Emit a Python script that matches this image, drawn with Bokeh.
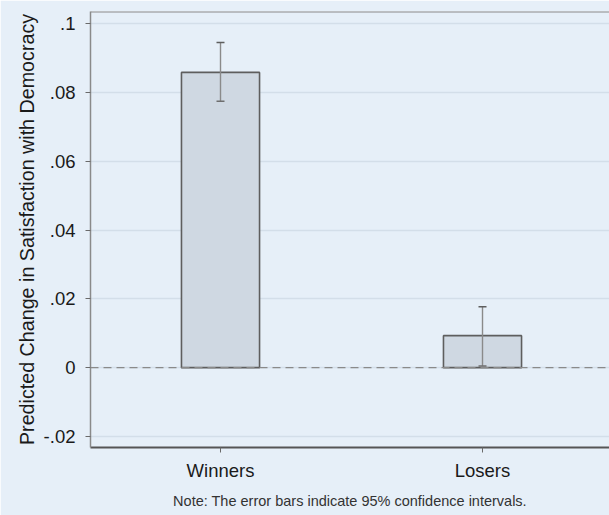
from bokeh.plotting import figure
from bokeh.models import (ColumnDataSource, FixedTicker, Span, Whisker, TeeHead,
                          Range1d, Title)
from bokeh.embed import file_html
from bokeh.resources import INLINE

# Data
categories = ["Winners", "Losers"]
positions = [1, 2]
estimates = [0.0858, 0.0093]
ci_lower = [0.0774, 0.0005]
ci_upper = [0.0945, 0.0177]
y_ticks = [-0.02, 0, 0.02, 0.04, 0.06, 0.08, 0.1]
y_tick_labels = ["-.02", "0", ".02", ".04", ".06", ".08", ".1"]
note_text = "Note: The error bars indicate 95% confidence intervals."

BG = "#e6eff8"
FONT = "Liberation Sans"
Y_START, Y_END = -0.0232, 0.1035

src = ColumnDataSource(dict(x=positions, top=estimates, lo=ci_lower, hi=ci_upper))

p = figure(width=609, height=515, output_backend="svg", toolbar_location=None,
           x_range=Range1d(0.5038, 2.4847), y_range=Range1d(Y_START, Y_END),
           min_border_left=90, min_border_right=0, min_border_top=11, min_border_bottom=67)
p.background_fill_color = BG
p.border_fill_color = BG
p.outline_line_color = None

p.xgrid.grid_line_color = None
p.ygrid.ticker = FixedTicker(ticks=y_ticks)
p.ygrid.grid_line_color = "#d3dee9"
p.ygrid.grid_line_width = 1.5

# top border of plot region
p.add_layout(Span(location=Y_END, dimension="width", line_color="#8a8a8a",
                  line_width=2))

p.add_layout(Span(location=0, dimension="width", line_color="#8a8a8a",
                  line_dash="8 5", line_width=1.3))

p.vbar(x="x", top="top", bottom=0, width=0.298, source=src,
       fill_color="#cfd8e2", line_color="#5e5e5e", line_width=1.6)

w = Whisker(base="x", lower="lo", upper="hi", source=src, level="overlay",
            line_color="#8a8a8a", line_width=1.4,
            upper_head=TeeHead(size=8, line_color="#5e5e5e", line_width=1.6),
            lower_head=TeeHead(size=8, line_color="#6e6e6e", line_width=1.6))
p.add_layout(w)

# y axis
p.yaxis.ticker = FixedTicker(ticks=y_ticks)
p.yaxis.major_label_overrides = {t: l for t, l in zip(y_ticks, y_tick_labels)}
p.yaxis.axis_label = "Predicted Change in Satisfaction with Democracy"
p.yaxis.axis_label_text_font = FONT
p.yaxis.axis_label_text_font_style = "normal"
p.yaxis.axis_label_text_font_size = "19.7px"
p.yaxis.axis_label_text_color = "#1a1a1a"
p.yaxis.axis_label_standoff = 3
p.yaxis.major_label_text_font = FONT
p.yaxis.major_label_text_font_size = "18.5px"
p.yaxis.major_label_text_color = "#1a1a1a"
p.yaxis.major_label_standoff = 10
p.yaxis.minor_tick_line_color = None
p.yaxis.axis_line_color = "#8a8a8a"
p.yaxis.axis_line_width = 1.5
p.yaxis.major_tick_line_color = "#6a6a6a"
p.yaxis.major_tick_out = 5
p.yaxis.major_tick_in = 0

# x axis
p.xaxis.ticker = FixedTicker(ticks=positions)
p.xaxis.major_label_overrides = {pos: c for pos, c in zip(positions, categories)}
p.xaxis.major_label_text_font = FONT
p.xaxis.major_label_text_font_size = "18.5px"
p.xaxis.major_label_text_line_height = 1.0
p.xaxis.major_label_text_color = "#1a1a1a"
p.xaxis.major_label_standoff = 7
p.xaxis.minor_tick_line_color = None
p.xaxis.axis_line_color = "#555555"
p.xaxis.axis_line_width = 2
p.xaxis.major_tick_line_color = "#6a6a6a"
p.xaxis.major_tick_out = 5
p.xaxis.major_tick_in = 0

note = Title(text=note_text, align="center", text_font=FONT, text_font_size="14.5px",
             text_line_height=1.0, text_font_style="normal", text_color="#333333",
             standoff=14)
p.add_layout(note, "below")

open("out.html", "w").write(file_html(p, INLINE))
